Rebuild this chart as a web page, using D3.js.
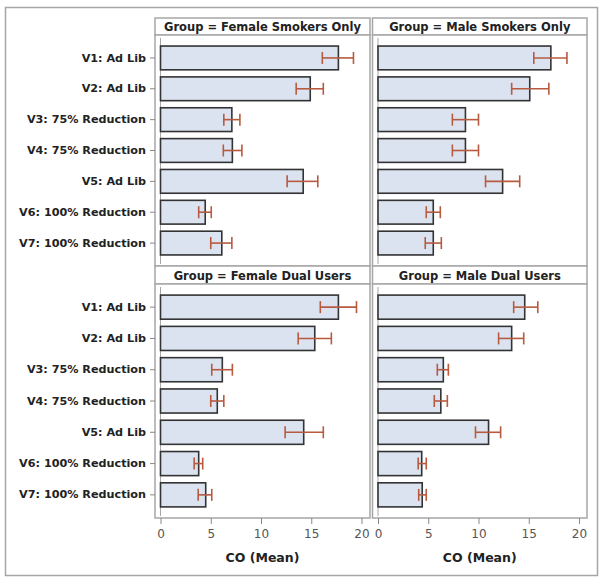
<!DOCTYPE html>
<html><head><meta charset="utf-8">
<script src="https://cdn.jsdelivr.net/npm/d3@7"></script>
<style>body{margin:0;background:#fff}svg{display:block}</style>
</head><body>
<script>
const categories = ["V1: Ad Lib","V2: Ad Lib","V3: 75% Reduction","V4: 75% Reduction","V5: Ad Lib","V6: 100% Reduction","V7: 100% Reduction"];
const groups = ["Female Smokers Only","Male Smokers Only","Female Dual Users","Male Dual Users"];
const xTicks = [0,5,10,15,20];
const xTitle = "CO (Mean)";

const meanFemaleSmokers  = [17.7,14.9,7.1,7.15,14.2,4.45,6.1];
const lowerFemaleSmokers = [16.1,13.5,6.3,6.25,12.6,3.8,5.0];
const upperFemaleSmokers = [19.2,16.2,7.9,8.1,15.65,5.05,7.1];

const meanMaleSmokers  = [17.2,15.1,8.7,8.7,12.4,5.5,5.5];
const lowerMaleSmokers = [15.5,13.3,7.4,7.4,10.7,4.8,4.7];
const upperMaleSmokers = [18.8,17.0,10.0,10.0,14.1,6.2,6.3];

const meanFemaleDual  = [17.7,15.35,6.15,5.65,14.25,3.8,4.5];
const lowerFemaleDual = [15.9,13.7,5.1,5.0,12.4,3.35,3.75];
const upperFemaleDual = [19.5,17.0,7.15,6.3,16.2,4.2,5.1];

const meanMaleDual  = [14.6,13.3,6.5,6.25,11.0,4.35,4.4];
const lowerMaleDual = [13.5,12.0,5.9,5.6,9.7,4.0,4.05];
const upperMaleDual = [15.9,14.5,7.0,6.9,12.2,4.8,4.8];

const panelData = [
  {mean:meanFemaleSmokers, lo:lowerFemaleSmokers, hi:upperFemaleSmokers},
  {mean:meanMaleSmokers, lo:lowerMaleSmokers, hi:upperMaleSmokers},
  {mean:meanFemaleDual, lo:lowerFemaleDual, hi:upperFemaleDual},
  {mean:meanMaleDual, lo:lowerMaleDual, hi:upperMaleDual}
];

const W = 604, H = 582;
const svg = d3.select("body").append("svg").attr("width", W).attr("height", H);
const font = "'DejaVu Sans', Verdana, sans-serif";
const frameCol = "#a6a6a6";

// outer border
svg.append("rect").attr("x",5.5).attr("y",7.5).attr("width",592).attr("height",568)
  .attr("fill","none").attr("stroke",frameCol).attr("stroke-width",1.5);

const cols = [{x0:155, x1:370}, {x0:372.5, x1:587}];
const rows = [{hy0:18, hy1:35, py1:266}, {hy0:266, hy1:284, py1:518}];

groups.forEach((g, i) => {
  const c = cols[i % 2], r = rows[Math.floor(i / 2)];
  const d = panelData[i];
  const zero = c.x0 + 5.5;
  const x = d3.scaleLinear().domain([0, 20]).range([zero, zero + 201]);
  const y = d3.scaleBand().domain(categories).range([r.hy1 + 7.5, r.py1 - 7.5]).paddingInner(0.23).paddingOuter(0.115);
  const gp = svg.append("g");

  // header
  gp.append("rect").attr("x", c.x0).attr("y", r.hy0).attr("width", c.x1 - c.x0).attr("height", r.hy1 - r.hy0)
    .attr("fill", "#fff").attr("stroke", frameCol).attr("stroke-width", 1.5);
  gp.append("text").attr("x", (c.x0 + c.x1) / 2).attr("y", (r.hy0 + r.hy1) / 2 + 4.5)
    .attr("text-anchor", "middle").attr("font-family", font).attr("font-weight", "bold")
    .attr("font-size", 11.5).attr("fill", "#222").text("Group = " + g);
  // plot frame
  gp.append("rect").attr("x", c.x0).attr("y", r.hy1).attr("width", c.x1 - c.x0).attr("height", r.py1 - r.hy1)
    .attr("fill", "#fff").attr("stroke", frameCol).attr("stroke-width", 1.5);
  // inner y axis line
  gp.append("line").attr("x1", zero).attr("x2", zero).attr("y1", r.hy1 + 3).attr("y2", r.py1 - 2)
    .attr("stroke", frameCol).attr("stroke-width", 1);

  // bars
  gp.selectAll("rect.bar").data(categories).join("rect").attr("class", "bar")
    .attr("x", x(0)).attr("y", k => y(k)).attr("width", (k, j) => x(d.mean[j]) - x(0))
    .attr("height", y.bandwidth()).attr("fill", "#dbe3f1").attr("stroke", "#333").attr("stroke-width", 1.6);

  // error bars
  const ec = "#b75a3f";
  const eg = gp.selectAll("g.err").data(categories).join("g").attr("class", "err");
  const cy = k => y(k) + y.bandwidth() / 2;
  eg.append("line").attr("x1", (k, j) => x(d.lo[j])).attr("x2", (k, j) => x(d.hi[j]))
    .attr("y1", cy).attr("y2", cy).attr("stroke", ec).attr("stroke-width", 1.6);
  eg.append("line").attr("x1", (k, j) => x(d.lo[j])).attr("x2", (k, j) => x(d.lo[j]))
    .attr("y1", k => cy(k) - 6).attr("y2", k => cy(k) + 6).attr("stroke", ec).attr("stroke-width", 1.6);
  eg.append("line").attr("x1", (k, j) => x(d.hi[j])).attr("x2", (k, j) => x(d.hi[j]))
    .attr("y1", k => cy(k) - 6).attr("y2", k => cy(k) + 6).attr("stroke", ec).attr("stroke-width", 1.6);

  // y axis labels for left column
  if (i % 2 === 0) {
    const ya = d3.axisLeft(y).tickSize(5).tickPadding(4);
    const ag = svg.append("g").attr("transform", `translate(${c.x0},0)`).call(ya);
    ag.select(".domain").remove();
    ag.selectAll(".tick line").attr("stroke", "#888");
    ag.selectAll(".tick text").attr("font-family", font).attr("font-weight", "bold")
      .attr("font-size", 11.2).attr("fill", "#222");
  }
  // x axis for bottom row
  if (i >= 2) {
    const xa = d3.axisBottom(x).tickValues(xTicks).tickSize(6).tickPadding(5);
    const ag = svg.append("g").attr("transform", `translate(0,${r.py1})`).call(xa);
    ag.select(".domain").remove();
    ag.selectAll(".tick line").attr("stroke", "#888");
    ag.selectAll(".tick text").attr("font-family", font).attr("font-size", 12).attr("fill", "#555");
    svg.append("text").attr("x", (c.x0 + c.x1) / 2).attr("y", 562).attr("text-anchor", "middle")
      .attr("font-family", font).attr("font-weight", "bold").attr("font-size", 12.5).attr("fill", "#222").text(xTitle);
  }
});
</script>
</body></html>
